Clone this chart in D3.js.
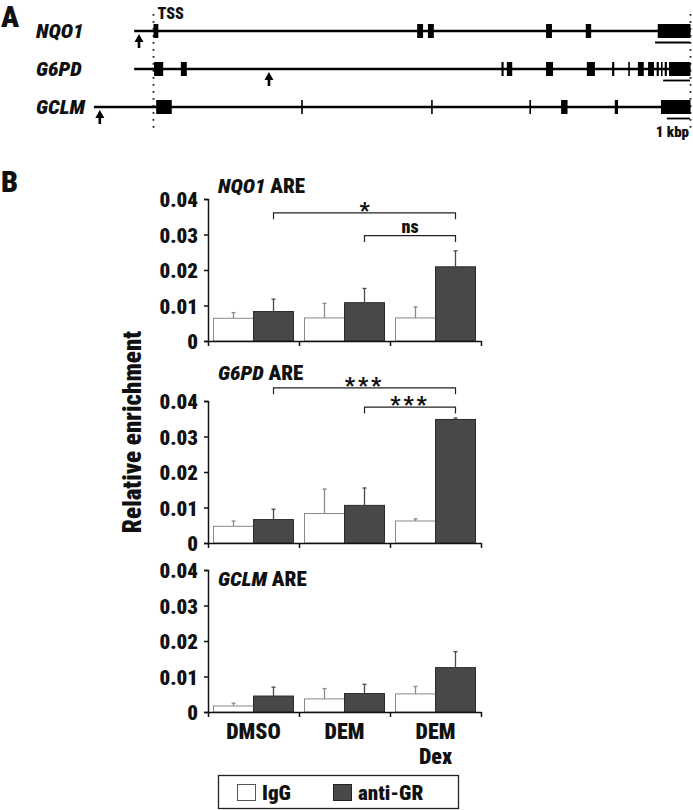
<!DOCTYPE html>
<html>
<head>
<meta charset="utf-8">
<script src="https://cdn.jsdelivr.net/npm/d3@7"></script>
<style>
	body { margin: 0; background: #fff; }
	svg { display: block; }
	text {
		font-family: 'Liberation Sans Narrow', 'Roboto Condensed', 'DejaVu Sans Condensed', 'Liberation Sans', sans-serif;
		font-stretch: condensed;
		font-weight: 900;
		fill: #111;
	}
</style>
</head>
<body>
<svg id="chart" width="693" height="810"></svg>
<script>
// Panel A. Gene positions as fraction of the TSS -> gene end span.
const genes = ['NQO1', 'G6PD', 'GCLM'];
const geneStarts = [-0.036, -0.036, -0.111];
const arrowPos = [-0.027, 0.215, -0.1];
const nqo1Exons = [[0, 0.009], [0.491, 0.502], [0.511, 0.522], [0.731, 0.742], [0.805, 0.815], [0.939, 1]];
const g6pdExons = [[0.001, 0.018], [0.051, 0.062], [0.648, 0.652], [0.658, 0.668], [0.731, 0.744], [0.807, 0.822], [0.854, 0.858], [0.884, 0.887], [0.902, 0.913], [0.921, 0.932], [0.937, 0.941], [0.945, 0.948], [0.952, 0.956], [0.96, 1]];
const gclmExons = [[0.005, 0.034], [0.275, 0.278], [0.517, 0.52], [0.7, 0.703], [0.759, 0.771], [0.859, 0.865], [0.945, 1]];
const utrBars = [[0.934, 0.999], [0.949, 0.999], [0.956, 0.999]];

// Panel B. ChIP enrichment.
const categories = ['DMSO', 'DEM', 'DEM Dex'];
const series = ['IgG', 'anti-GR'];
const yTicks = [0, 0.01, 0.02, 0.03, 0.04];

const nqo1IgG = [0.0064, 0.0065, 0.0065];
const nqo1IgGErr = [0.0016, 0.0041, 0.0031];
const nqo1AntiGR = [0.0083, 0.0108, 0.0209];
const nqo1AntiGRErr = [0.0035, 0.004, 0.0045];

const g6pdIgG = [0.0047, 0.0083, 0.0062];
const g6pdIgGErr = [0.0015, 0.0069, 0.0006];
const g6pdAntiGR = [0.0066, 0.0106, 0.0348];
const g6pdAntiGRErr = [0.0029, 0.0049, 0.0004];

const gclmIgG = [0.0017, 0.0037, 0.0051];
const gclmIgGErr = [0.0008, 0.0029, 0.0021];
const gclmAntiGR = [0.0045, 0.0052, 0.0125];
const gclmAntiGRErr = [0.0025, 0.0026, 0.0045];

// [from category, to category, label, bracket height]
const nqo1Brackets = [[0, 2, '*', 0.0361], [1, 2, 'ns', 0.0297]];
const g6pdBrackets = [[0, 2, '***', 0.0437], [1, 2, '***', 0.0383]];
const gclmBrackets = [];

const svg = d3.select('#chart');

// ---------- Panel A ----------
const exonSets = [nqo1Exons, g6pdExons, gclmExons];
const gx = d3.scaleLinear().domain([0, 1]).range([153.5, 690.5]);
const gy = d3.scalePoint().domain(genes).range([31, 107]);
const exonH = 14;

svg.append('text').attr('x', 1).attr('y', 27).attr('font-size', 30).text('A');

// TSS and gene end dotted guides
[0, 1].forEach(d => {
	svg.append('line')
		.attr('x1', gx(d)).attr('x2', gx(d))
		.attr('y1', 14).attr('y2', 130)
		.attr('stroke', '#222').attr('stroke-width', 1.8)
		.attr('stroke-dasharray', '1.8,5.2');
});
svg.append('text').attr('x', gx(0) + 4).attr('y', 19).attr('font-size', 16).text('TSS');

genes.forEach((g, i) => {
	const cy = gy(g);
	const row = svg.append('g').attr('class', 'gene');

	row.append('text')
		.attr('x', 36).attr('y', cy + 7)
		.attr('font-size', 21).attr('font-style', 'italic')
		.text(g);

	row.append('line')
		.attr('x1', gx(geneStarts[i])).attr('x2', gx(1))
		.attr('y1', cy).attr('y2', cy)
		.attr('stroke', '#000').attr('stroke-width', 2.6);

	row.selectAll('rect.exon')
		.data(exonSets[i])
		.join('rect')
		.attr('class', 'exon')
		.attr('x', d => gx(d[0]))
		.attr('width', d => Math.max(1.6, gx(d[1]) - gx(d[0])))
		.attr('y', cy - exonH / 2)
		.attr('height', exonH)
		.attr('fill', '#000');

	row.append('line')
		.attr('x1', gx(utrBars[i][0])).attr('x2', gx(utrBars[i][1]))
		.attr('y1', cy + 11.5).attr('y2', cy + 11.5)
		.attr('stroke', '#000').attr('stroke-width', 1.8);

	// binding site arrow
	const ax = gx(arrowPos[i]);
	row.append('path')
		.attr('d', `M${ax},${cy + 3}L${ax - 4.5},${cy + 11}L${ax + 4.5},${cy + 11}Z`)
		.attr('fill', '#000');
	row.append('line')
		.attr('x1', ax).attr('x2', ax)
		.attr('y1', cy + 9).attr('y2', cy + 17)
		.attr('stroke', '#000').attr('stroke-width', 2.6);
});

svg.append('text').attr('x', 689).attr('y', 137).attr('font-size', 15).attr('text-anchor', 'end').text('1 kbp');

// ---------- Panel B ----------
svg.append('text').attr('x', 1).attr('y', 192).attr('font-size', 30).text('B');

const panels = [
	{ gene: 'NQO1', top: 199, titleDy: -6, values: [nqo1IgG, nqo1AntiGR], errs: [nqo1IgGErr, nqo1AntiGRErr], brackets: nqo1Brackets },
	{ gene: 'G6PD', top: 401, titleDy: -21, values: [g6pdIgG, g6pdAntiGR], errs: [g6pdIgGErr, g6pdAntiGRErr], brackets: g6pdBrackets },
	{ gene: 'GCLM', top: 570, titleDy: 16, values: [gclmIgG, gclmAntiGR], errs: [gclmIgGErr, gclmAntiGRErr], brackets: gclmBrackets }
];
const plotH = 142;
const x = d3.scaleBand().domain(categories).range([208, 481]);
const xs = d3.scaleBand().domain(series).range([0, x.bandwidth()]).paddingOuter(0.1375);
const xEdges = d3.scaleLinear().domain([0, categories.length]).range(x.range());
const fills = { 'IgG': '#fff', 'anti-GR': '#484848' };
const strokes = { 'IgG': '#8a8a8a', 'anti-GR': '#2c2c2c' };
const errColors = { 'IgG': '#8a8a8a', 'anti-GR': '#4a4a4a' };

panels.forEach(p => {
	const y = d3.scaleLinear().domain([0, 0.04]).range([p.top + plotH, p.top]);
	const g = svg.append('g').attr('class', 'panel');

	g.append('text')
		.attr('x', 218).attr('y', p.top + p.titleDy)
		.attr('font-size', 21)
		.call(t => {
			t.append('tspan').attr('font-style', 'italic').text(p.gene);
			t.append('tspan').text(' ARE');
		});

	const rows = series.flatMap((s, si) => categories.map((c, ci) => ({ s, c, v: p.values[si][ci], e: p.errs[si][ci] })));

	g.selectAll('rect.bar')
		.data(rows)
		.join('rect')
		.attr('class', 'bar')
		.attr('x', d => x(d.c) + xs(d.s))
		.attr('width', xs.bandwidth())
		.attr('y', d => y(d.v))
		.attr('height', d => y(0) - y(d.v))
		.attr('fill', d => fills[d.s])
		.attr('stroke', d => strokes[d.s])
		.attr('stroke-width', 1);

	const err = g.selectAll('g.err').data(rows).join('g').attr('class', 'err')
		.attr('stroke', d => errColors[d.s]).attr('stroke-width', 1.3);
	err.append('line')
		.attr('x1', d => x(d.c) + xs(d.s) + xs.bandwidth() / 2)
		.attr('x2', d => x(d.c) + xs(d.s) + xs.bandwidth() / 2)
		.attr('y1', d => y(d.v))
		.attr('y2', d => y(d.v + d.e));
	err.append('line')
		.attr('x1', d => x(d.c) + xs(d.s) + xs.bandwidth() / 2 - 2)
		.attr('x2', d => x(d.c) + xs(d.s) + xs.bandwidth() / 2 + 2)
		.attr('y1', d => y(d.v + d.e))
		.attr('y2', d => y(d.v + d.e));

	// y axis
	const yAxis = g.append('g')
		.attr('transform', 'translate(208,0)')
		.call(d3.axisLeft(y).tickValues(yTicks).tickSize(4).tickPadding(6).tickFormat(d => (d === 0 ? '0' : d.toFixed(2))));
	yAxis.attr('font-family', null).attr('font-size', null);
	yAxis.selectAll('text').attr('font-size', 21).attr('fill', '#111').attr('dy', '0.36em');
	yAxis.selectAll('path, line').attr('stroke', '#111').attr('stroke-width', 1.5);

	// x axis with ticks at group boundaries
	const xAxis = g.append('g')
		.attr('transform', `translate(0,${y(0)})`)
		.call(d3.axisBottom(xEdges).tickValues(d3.range(categories.length + 1)).tickSize(5).tickSizeOuter(0).tickFormat(''));
	xAxis.selectAll('path, line').attr('stroke', '#111').attr('stroke-width', 1.5);

	// significance brackets
	const anti = series[1];
	const cx = i => x(categories[i]) + xs(anti) + xs.bandwidth() / 2;
	p.brackets.forEach(([a, b, label, h]) => {
		const by = y(h);
		g.append('path')
			.attr('d', `M${cx(a)},${by + 6.5}V${by}H${cx(b)}V${by + 6.5}`)
			.attr('fill', 'none').attr('stroke', '#222').attr('stroke-width', 1.2);
		const isStar = label.includes('*');
		g.append('text')
			.attr('x', (cx(a) + cx(b)) / 2)
			.attr('y', isStar ? by + 5 : by - 3)
			.attr('text-anchor', 'middle')
			.attr('font-size', isStar ? 22 : 18)
			.attr('letter-spacing', label.length > 1 && isStar ? 3 : 0)
			.text(label);
	});
});

// category labels under the last panel
const lastY = panels[2].top + plotH;
categories.forEach(c => {
	c.split(' ').forEach((w, li) => {
		svg.append('text')
			.attr('x', x(c) + x.bandwidth() / 2)
			.attr('y', lastY + 27 + li * 25)
			.attr('text-anchor', 'middle')
			.attr('font-size', 22)
			.text(w);
	});
});

svg.append('text')
	.attr('transform', 'translate(141,432) rotate(-90)')
	.attr('text-anchor', 'middle')
	.attr('font-size', 25)
	.text('Relative enrichment');

// legend
const legend = svg.append('g').attr('class', 'legend');
legend.append('rect')
	.attr('x', 218.5).attr('y', 775.5).attr('width', 240).attr('height', 33)
	.attr('fill', '#fff').attr('stroke', '#222').attr('stroke-width', 1.3);
const legendX = d3.scaleOrdinal().domain(series).range([237, 333]);
series.forEach(s => {
	legend.append('rect')
		.attr('x', legendX(s) + 0.5).attr('y', 784.5).attr('width', 18).attr('height', 16)
		.attr('fill', fills[s]).attr('stroke', s === 'IgG' ? '#555' : '#222').attr('stroke-width', 1);
	legend.append('text')
		.attr('x', legendX(s) + 25).attr('y', 800)
		.attr('font-size', 21)
		.text(s);
});
</script>
</body>
</html>
